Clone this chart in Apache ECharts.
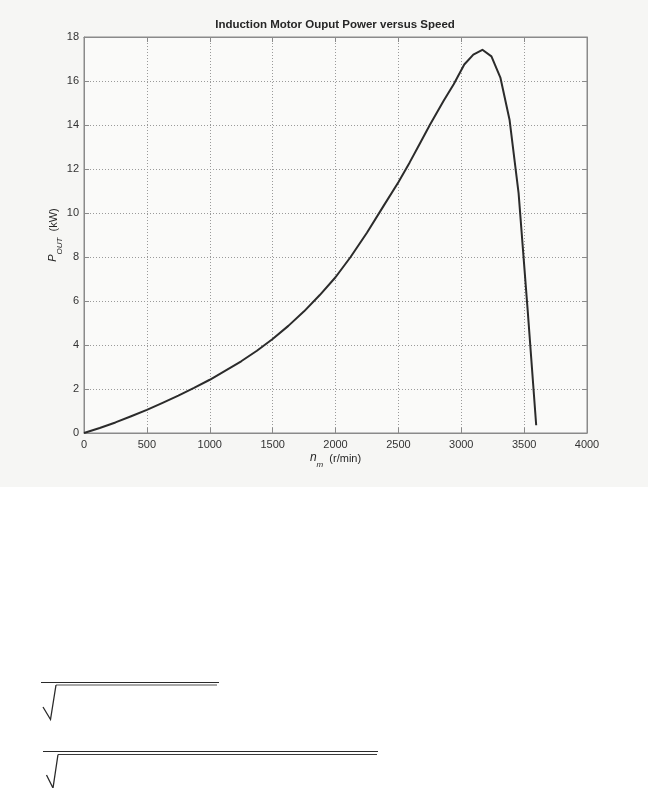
<!DOCTYPE html>
<html>
<head>
<meta charset="utf-8">
<script src="https://cdn.jsdelivr.net/npm/echarts@6/dist/echarts.min.js"></script>
<style>
  html, body { margin: 0; padding: 0; background: #ffffff; }
  #motorChart { width: 648px; height: 788px; }
</style>
</head>
<body>
<div id="motorChart"></div>
<script>
// speed (r/min) and output power (kW)
var speed = [0, 125, 250, 375, 500, 625, 750, 875, 1000, 1125, 1250, 1375, 1500, 1625, 1750,
    1875, 2000, 2120, 2250, 2380, 2500, 2590, 2670, 2750, 2860, 2940, 3024, 3096, 3168,
    3240, 3312, 3384, 3456, 3528, 3596];
var power = [0, 0.23, 0.48, 0.76, 1.05, 1.37, 1.70, 2.05, 2.42, 2.83, 3.26, 3.74, 4.27, 4.87, 5.53,
    6.27, 7.08, 8.0, 9.1, 10.3, 11.4, 12.3, 13.15, 14.0, 15.1, 15.85, 16.75, 17.2, 17.42,
    17.12, 16.14, 14.24, 10.9, 5.6, 0.35];

var speedTicks = [0, 500, 1000, 1500, 2000, 2500, 3000, 3500, 4000];
var powerTicks = [0, 2, 4, 6, 8, 10, 12, 14, 16, 18];

var font = 'Liberation Sans, Arial, Helvetica, sans-serif';
var axisGray = '#8a8a8a';

var points = speed.map(function (s, i) { return [s, power[i]]; });

function plain(v) { return String(v); }

function frameAxis(extra) {
    var base = {
        type: 'value',
        axisLine: { show: true, onZero: false, lineStyle: { color: axisGray, width: 1 } },
        axisTick: { show: true, inside: true, length: 5, lineStyle: { color: axisGray, width: 1 } },
        axisLabel: { show: false },
        splitLine: { show: false }
    };
    return Object.assign(base, extra);
}

var chart = echarts.init(document.getElementById('motorChart'), null, { renderer: 'canvas' });

chart.setOption({
    backgroundColor: '#ffffff',
    animation: false,
    textStyle: { fontFamily: font },
    title: {
        text: 'Induction Motor Ouput Power versus Speed',
        left: 330,
        top: 14,
        textAlign: 'center',
        textStyle: { fontFamily: font, fontSize: 11.5, fontWeight: 'bold', color: '#262626' }
    },
    graphic: [
        { type: 'rect', z: -10, silent: true, shape: { x: 0, y: 0, width: 648, height: 487 },
          style: { fill: '#f6f6f4' } },
        // leftover square-root marks from the scanned page
        { type: 'line', shape: { x1: 41, y1: 682.5, x2: 219, y2: 682.5 }, style: { stroke: '#2a2a2a', lineWidth: 1 } },
        { type: 'line', shape: { x1: 56, y1: 685, x2: 217, y2: 685 }, style: { stroke: '#a8a8a8', lineWidth: 2 } },
        { type: 'polyline', shape: { points: [[43, 707], [50.5, 719.5], [56, 685]] },
          style: { stroke: '#2a2a2a', lineWidth: 1.3, fill: null } },
        { type: 'line', shape: { x1: 43, y1: 751.5, x2: 378, y2: 751.5 }, style: { stroke: '#2a2a2a', lineWidth: 1 } },
        { type: 'line', shape: { x1: 58, y1: 754.5, x2: 377, y2: 754.5 }, style: { stroke: '#3a3a3a', lineWidth: 1 } },
        { type: 'polyline', shape: { points: [[46.5, 775], [53, 788], [58, 754.5]] },
          style: { stroke: '#2a2a2a', lineWidth: 1.3, fill: null } }
    ],
    grid: {
        left: 84,
        top: 37,
        right: 61,
        bottom: 355,
        show: true,
        backgroundColor: '#fafaf9',
        borderColor: axisGray,
        borderWidth: 1
    },
    xAxis: [
        frameAxis({
            position: 'bottom',
            min: 0, max: 4000, interval: 500,
            axisLabel: { show: true, margin: 6, color: '#333', fontSize: 11, fontFamily: font,
                formatter: plain, customValues: speedTicks },
            splitLine: { show: true, lineStyle: { color: '#9a9a9a', type: [1, 2], width: 1 } },
            name: '{n|n}{s|m}{t|  (r/min)}',
            nameLocation: 'middle',
            nameGap: 19,
            nameMoveOverlap: false,
            nameTextStyle: {
                color: '#262626', fontFamily: font, verticalAlign: 'top',
                rich: {
                    n: { fontSize: 12, fontStyle: 'italic', lineHeight: 12, verticalAlign: 'top', color: '#262626' },
                    s: { fontSize: 8, fontStyle: 'italic', lineHeight: 9, verticalAlign: 'bottom', color: '#262626' },
                    t: { fontSize: 11, lineHeight: 17, verticalAlign: 'middle', color: '#262626', padding: [0, 0, 4, 0] }
                }
            }
        }),
        frameAxis({ position: 'top', min: 0, max: 4000, interval: 500 })
    ],
    yAxis: [
        frameAxis({
            position: 'left',
            min: 0, max: 18, interval: 2,
            axisLabel: { show: true, margin: 5, color: '#333', fontSize: 11, fontFamily: font,
                formatter: plain, customValues: powerTicks },
            splitLine: { show: true, lineStyle: { color: '#9a9a9a', type: [1, 2], width: 1 } },
            name: '{p|P}{s|OUT}{t|  (kW)}',
            nameLocation: 'middle',
            nameGap: 20,
            nameMoveOverlap: false,
            nameRotate: 90,
            nameTextStyle: {
                color: '#262626', fontFamily: font,
                rich: {
                    p: { fontSize: 11, fontStyle: 'italic', lineHeight: 12, verticalAlign: 'top', color: '#262626' },
                    s: { fontSize: 8, fontStyle: 'italic', lineHeight: 9, verticalAlign: 'bottom', color: '#262626' },
                    t: { fontSize: 11, lineHeight: 17, verticalAlign: 'middle', color: '#262626', padding: [0, 0, 4, 0] }
                }
            }
        }),
        frameAxis({ position: 'right', min: 0, max: 18, interval: 2 })
    ],
    series: [
        {
            name: 'P_OUT',
            type: 'line',
            xAxisIndex: 0,
            yAxisIndex: 0,
            data: points,
            showSymbol: false,
            smooth: false,
            lineStyle: { color: '#2b2b2b', width: 2, join: 'round' },
            z: 5
        }
    ]
});
</script>
</body>
</html>
